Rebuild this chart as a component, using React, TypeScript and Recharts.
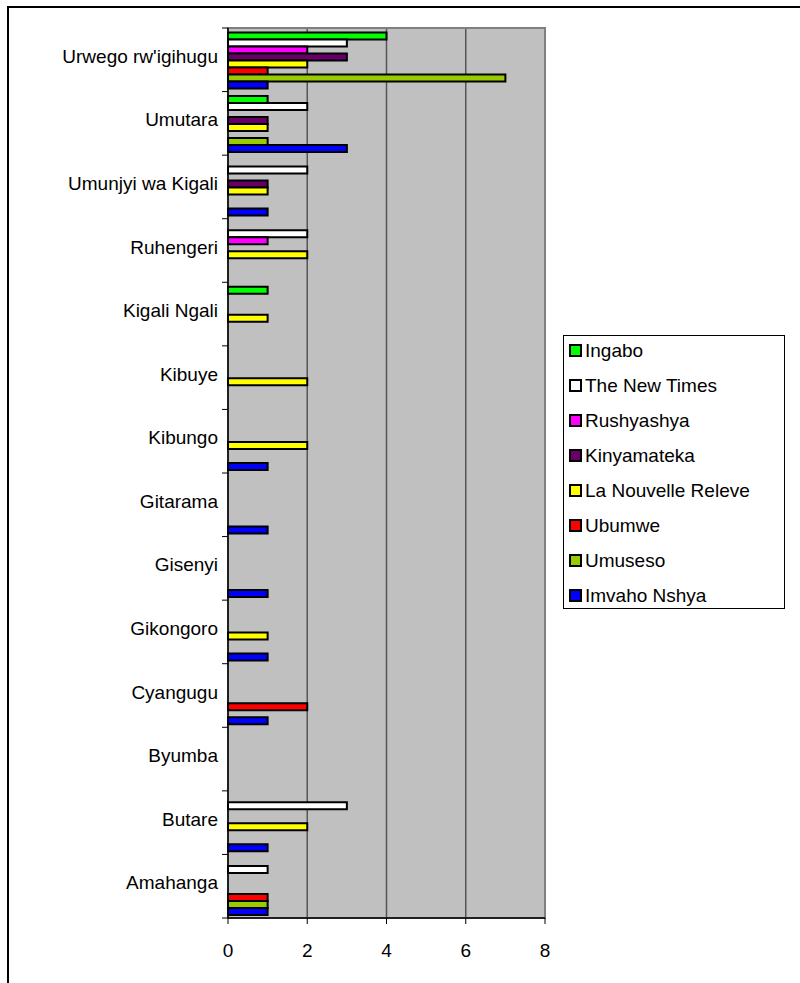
import { BarChart, Bar, XAxis, YAxis, CartesianGrid, ReferenceArea } from 'recharts';

const regions = [
  'Urwego rw\'igihugu',
  'Umutara',
  'Umunjyi wa Kigali',
  'Ruhengeri',
  'Kigali Ngali',
  'Kibuye',
  'Kibungo',
  'Gitarama',
  'Gisenyi',
  'Gikongoro',
  'Cyangugu',
  'Byumba',
  'Butare',
  'Amahanga',
];

const ingabo = [4, 1, 0, 0, 1, 0, 0, 0, 0, 0, 0, 0, 0, 0];
const newTimes = [3, 2, 2, 2, 0, 0, 0, 0, 0, 0, 0, 0, 3, 1];
const rushyashya = [2, 0, 0, 1, 0, 0, 0, 0, 0, 0, 0, 0, 0, 0];
const kinyamateka = [3, 1, 1, 0, 0, 0, 0, 0, 0, 0, 0, 0, 0, 0];
const nouvelleReleve = [2, 1, 1, 2, 1, 2, 2, 0, 0, 1, 0, 0, 2, 0];
const ubumwe = [1, 0, 0, 0, 0, 0, 0, 0, 0, 0, 2, 0, 0, 1];
const umuseso = [7, 1, 0, 0, 0, 0, 0, 0, 0, 0, 0, 0, 0, 1];
const imvaho = [1, 3, 1, 0, 0, 0, 1, 1, 1, 1, 1, 0, 1, 1];

const xTicks = [0, 2, 4, 6, 8];

const series = [
  { key: 'ingabo', name: 'Ingabo', color: '#00FF00', values: ingabo },
  { key: 'newTimes', name: 'The New Times', color: '#FFFFFF', values: newTimes },
  { key: 'rushyashya', name: 'Rushyashya', color: '#FF00FF', values: rushyashya },
  { key: 'kinyamateka', name: 'Kinyamateka', color: '#660066', values: kinyamateka },
  { key: 'nouvelleReleve', name: 'La Nouvelle Releve', color: '#FFFF00', values: nouvelleReleve },
  { key: 'ubumwe', name: 'Ubumwe', color: '#FF0000', values: ubumwe },
  { key: 'umuseso', name: 'Umuseso', color: '#99CC00', values: umuseso },
  { key: 'imvaho', name: 'Imvaho Nshya', color: '#0000FF', values: imvaho },
];

const data = regions.map((region, i) => {
  const row: Record<string, string | number> = { region };
  series.forEach((s) => {
    row[s.key] = s.values[i];
  });
  return row;
});

const FONT = '"Liberation Sans", Arial, sans-serif';
const FONT_SIZE = 19;

// Excel-style category axis: label in the middle, tick marks on the band edges
function RegionTick(props: any) {
  const { x, y, payload, index } = props;
  const half = payload?.offset ?? 0;
  return (
    <g>
      {index === 0 && <line x1={x + 2} x2={x + 8} y1={y - half} y2={y - half} stroke="#000" strokeWidth={1} />}
      <line x1={x + 2} x2={x + 8} y1={y + half} y2={y + half} stroke="#000" strokeWidth={1} />
      <text x={x - 2} y={y - 2} textAnchor="end" dominantBaseline="middle" fontSize={FONT_SIZE} fontFamily={FONT} fill="#000">
        {payload.value}
      </text>
    </g>
  );
}

function LegendBox() {
  return (
    <div
      style={{
        position: 'absolute',
        left: 555,
        top: 327,
        width: 222,
        height: 274,
        border: '1px solid #000',
        background: '#fff',
        boxSizing: 'border-box',
        padding: '0 0 0 5px',
        fontFamily: FONT,
        fontSize: FONT_SIZE,
        color: '#000',
      }}
    >
      <div style={{ marginTop: -3 }}>
        {series.map((s) => (
          <div key={s.key} style={{ display: 'flex', alignItems: 'center', height: 35 }}>
            <span
              style={{
                display: 'inline-block',
                width: 9,
                height: 9,
                border: '2px solid #000',
                background: s.color,
                marginRight: 3,
              }}
            />
            <span>{s.name}</span>
          </div>
        ))}
      </div>
    </div>
  );
}

export default function App() {
  return (
    <div style={{ position: 'relative', width: 792, height: 975 }}>
      {/* outer frame of the chart object: top and left edges only */}
      <div style={{ position: 'fixed', zIndex: 3, left: 7, top: 6, width: 793, height: 2, background: '#000' }} />
      <div style={{ position: 'fixed', zIndex: 3, left: 7, top: 6, width: 2, height: 977, background: '#000' }} />
      <BarChart
        width={792}
        height={975}
        data={data}
        layout="vertical"
        margin={{ top: 20, right: 255, bottom: 35, left: 20 }}
        barCategoryGap="7%"
        barGap={0}
      >
        <CartesianGrid horizontal={false} vertical={true} fill="#C0C0C0" fillOpacity={1} stroke="#555" strokeWidth={1.5} />
        <ReferenceArea x1={0} x2={8} fill="none" stroke="#808080" strokeWidth={2} />
        <XAxis
          type="number"
          domain={[0, 8]}
          ticks={xTicks}
          interval={0}
          axisLine={{ stroke: '#000', strokeWidth: 1.5 }}
          tickLine={{ stroke: '#000' }}
          tickSize={6}
          tick={{ fontSize: FONT_SIZE, fontFamily: FONT, fill: '#000', dy: 18 }}
          height={30}
        />
        <YAxis
          type="category"
          dataKey="region"
          width={200}
          axisLine={{ stroke: '#000', strokeWidth: 1.5 }}
          tickLine={false}
          tick={<RegionTick />}
          interval={0}
        />
        {series.map((s) => (
          <Bar
            key={s.key}
            dataKey={s.key}
            name={s.name}
            fill={s.color}
            stroke="#000"
            strokeWidth={2}
            isAnimationActive={false}
          />
        ))}
      </BarChart>
      <LegendBox />
    </div>
  );
}
